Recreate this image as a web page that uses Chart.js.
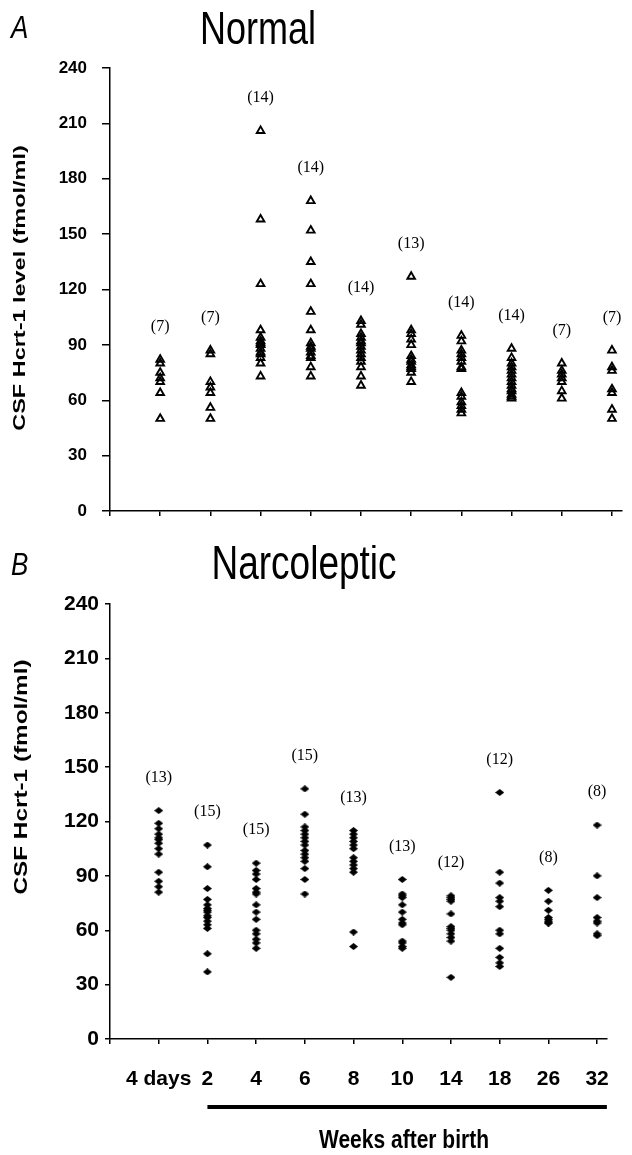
<!DOCTYPE html>
<html>
<head>
<meta charset="utf-8">
<script src="https://cdn.jsdelivr.net/npm/chart.js@4.4.1/dist/chart.umd.min.js"></script>
<style>
  body { margin: 0; background: #fff; }
  canvas { display: block; }
</style>
</head>
<body>
<canvas id="chartA" width="632" height="545"></canvas>
<canvas id="chartB" width="632" height="610"></canvas>
<script>
// categories along the x axis
const xLabels = ["4 days", "2", "4", "6", "8", "10", "14", "18", "26", "32"];
const yTickValues = [0, 30, 60, 90, 120, 150, 180, 210, 240];

// A - Normal, CSF Hcrt-1 level (fmol/ml), one array per age
const normal4d = [82, 80, 75, 72, 70, 64, 50];
const normal2w = [87, 85, 70, 67, 64, 56, 50];
const normal4w = [206, 158, 123, 98, 94, 92, 91, 90, 88, 86, 85, 83, 80, 73];
const normal6w = [168, 152, 135, 123, 108, 98, 91, 89, 88, 86, 84, 83, 78, 73];
const normal8w = [103, 101, 96, 94, 92, 91, 89, 87, 85, 83, 81, 78, 73, 68];
const normal10w = [127, 98, 96, 93, 90, 84, 82, 81, 79, 78, 77, 75, 70];
const normal14w = [95, 92, 87, 85, 83, 81, 78, 77, 64, 62, 59, 57, 55, 53];
const normal18w = [88, 83, 80, 78, 76, 74, 72, 70, 68, 66, 65, 63, 62, 61];
const normal26w = [80, 76, 74, 72, 70, 65, 61];
const normal32w = [87, 78, 76, 66, 64, 55, 50];

// B - Narcoleptic
const narco4d = [126, 119, 116, 113, 111, 110, 108, 105, 102, 92, 87, 84, 81];
const narco2w = [107, 95, 83, 77, 74, 72, 71, 70, 68, 67, 65, 63, 61, 47, 37];
const narco4w = [97, 93, 91, 88, 83, 81, 80, 74, 70, 66, 60, 58, 55, 53, 50];
const narco6w = [138, 124, 117, 115, 113, 111, 109, 107, 104, 102, 100, 98, 94, 88, 80];
const narco8w = [115, 113, 111, 109, 107, 105, 100, 98, 96, 94, 92, 59, 51];
const narco10w = [88, 80, 79, 78, 74, 70, 66, 64, 63, 54, 53, 51, 50];
const narco14w = [79, 78, 77, 76, 69, 62, 61, 60, 58, 56, 54, 34];
const narco18w = [136, 92, 86, 78, 76, 73, 60, 58, 50, 45, 42, 40];
const narco26w = [82, 76, 71, 67, 66, 65, 64, 64];
const narco32w = [118, 90, 78, 67, 65, 64, 58, 57];

const normalCols = [normal4d, normal2w, normal4w, normal6w, normal8w, normal10w, normal14w, normal18w, normal26w, normal32w];
const narcoCols = [narco4d, narco2w, narco4w, narco6w, narco8w, narco10w, narco14w, narco18w, narco26w, narco32w];

const SANS = "'Liberation Sans', Arial, sans-serif";
const SERIF = "'Liberation Serif', 'Times New Roman', serif";

// filled diamond marker for panel B
const diamond = document.createElement("canvas");
diamond.width = 9;
diamond.height = 7;
const dctx = diamond.getContext("2d");
dctx.beginPath();
dctx.moveTo(0, 3.5);
dctx.lineTo(4.5, 0);
dctx.lineTo(9, 3.5);
dctx.lineTo(4.5, 7);
dctx.closePath();
dctx.fillStyle = "#000";
dctx.fill();

const drawText = function (ctx, text, x, y, font, opts = {}) {
  ctx.save();
  ctx.translate(x, y);
  ctx.rotate(opts.rot || 0);
  ctx.scale(opts.sx || 1, opts.sy || 1);
  ctx.font = font;
  ctx.fillStyle = "#000";
  ctx.textAlign = opts.align || "center";
  ctx.textBaseline = "middle";
  ctx.fillText(text, 0, 0);
  ctx.restore();
};

const makeDatasets = function (cols, pointOpts) {
  return cols.map((col, i) => ({
    data: col.map((v) => ({ x: i + 1, y: v })),
    ...pointOpts,
  }));
};

const makeScales = function (o) {
  return {
    x: {
      type: "linear",
      min: 0,
      max: 10.2,
      afterBuildTicks: (s) => {
        s.ticks = [0, 1, 2, 3, 4, 5, 6, 7, 8, 9, 10].map((v) => ({ value: v }));
      },
      afterFit: (s) => {
        s.height = o.xHeight;
      },
      grid: { drawOnChartArea: false, color: "#000", lineWidth: 1.5, tickLength: 5 },
      border: { color: "#000", width: 1.5 },
      ticks: {
        display: o.showX,
        autoSkip: false,
        maxRotation: 0,
        padding: 23,
        color: "#000",
        font: { family: SANS, size: 21, weight: "bold" },
        callback: (v) => (v === 0 ? "" : xLabels[v - 1]),
      },
    },
    y: {
      min: 0,
      max: 240,
      afterBuildTicks: (s) => {
        s.ticks = yTickValues.map((v) => ({ value: v }));
      },
      afterFit: (s) => {
        s.width = 110;
      },
      grid: { drawOnChartArea: false, color: "#000", lineWidth: 1.5, tickLength: o.yTickLen },
      border: { color: "#000", width: 1.5 },
      ticks: {
        padding: o.yPad,
        color: "#000",
        font: { family: SANS, size: o.yFont, weight: "bold" },
      },
    },
  };
};

// "(n)" above each column
const drawCounts = function (chart, cols) {
  const { ctx, scales } = chart;
  cols.forEach((col, i) => {
    const px = scales.x.getPixelForValue(i + 1);
    const py = scales.y.getPixelForValue(Math.max(...col)) - 33;
    drawText(ctx, `(${col.length})`, px, py, `16px ${SERIF}`);
  });
};

const baseOptions = {
  responsive: false,
  animation: false,
  events: [],
  plugins: { legend: { display: false }, tooltip: { enabled: false } },
};

// Panel A - Normal
new Chart(document.getElementById("chartA"), {
  type: "scatter",
  data: {
    datasets: makeDatasets(normalCols, {
      pointStyle: "triangle",
      pointRadius: 4.4,
      borderWidth: 1.9,
      borderColor: "#000",
      backgroundColor: "rgba(0,0,0,0)",
    }),
  },
  options: {
    ...baseOptions,
    layout: { padding: { top: 68, right: 10, left: 0, bottom: 0 } },
    scales: makeScales({ xHeight: 34, showX: false, yTickLen: 8, yPad: 15, yFont: 17 }),
  },
  plugins: [
    {
      id: "decorA",
      afterDraw(chart) {
        const ctx = chart.ctx;
        drawText(ctx, "A", 11, 29, `italic 26px ${SANS}`, { align: "left", sy: 1.2 });
        drawText(ctx, "Normal", 258, 31, `36px ${SANS}`, { sy: 1.3 });
        drawText(ctx, "CSF Hcrt-1 level (fmol/ml)", 20, 288, `bold 17px ${SANS}`, {
          rot: -Math.PI / 2,
          sx: 1.38,
        });
        drawCounts(chart, normalCols);
      },
    },
  ],
});

// Panel B - Narcoleptic
new Chart(document.getElementById("chartB"), {
  type: "scatter",
  data: {
    datasets: makeDatasets(narcoCols, {
      pointStyle: diamond,
      pointRadius: 4,
    }),
  },
  options: {
    ...baseOptions,
    layout: { padding: { top: 59, right: 10, left: 0, bottom: 0 } },
    scales: makeScales({ xHeight: 116, showX: true, yTickLen: 5, yPad: 6, yFont: 21 }),
  },
  plugins: [
    {
      id: "decorB",
      afterDraw(chart) {
        const ctx = chart.ctx;
        const x = chart.scales.x;
        drawText(ctx, "B", 11, 21, `italic 26px ${SANS}`, { align: "left", sy: 1.2 });
        drawText(ctx, "Narcoleptic", 304, 21, `37px ${SANS}`, { sy: 1.3 });
        drawText(ctx, "CSF Hcrt-1 (fmol/ml)", 22, 232, `bold 19px ${SANS}`, {
          rot: -Math.PI / 2,
          sx: 1.28,
        });
        drawCounts(chart, narcoCols);

        // bar under the week labels
        ctx.save();
        ctx.strokeStyle = "#000";
        ctx.lineWidth = 4;
        ctx.beginPath();
        ctx.moveTo(x.getPixelForValue(2), 562);
        ctx.lineTo(x.right, 562);
        ctx.stroke();
        ctx.restore();

        drawText(ctx, "Weeks after birth", 404, 596, `bold 21px ${SANS}`, { sy: 1.2 });
      },
    },
  ],
});
</script>
</body>
</html>
